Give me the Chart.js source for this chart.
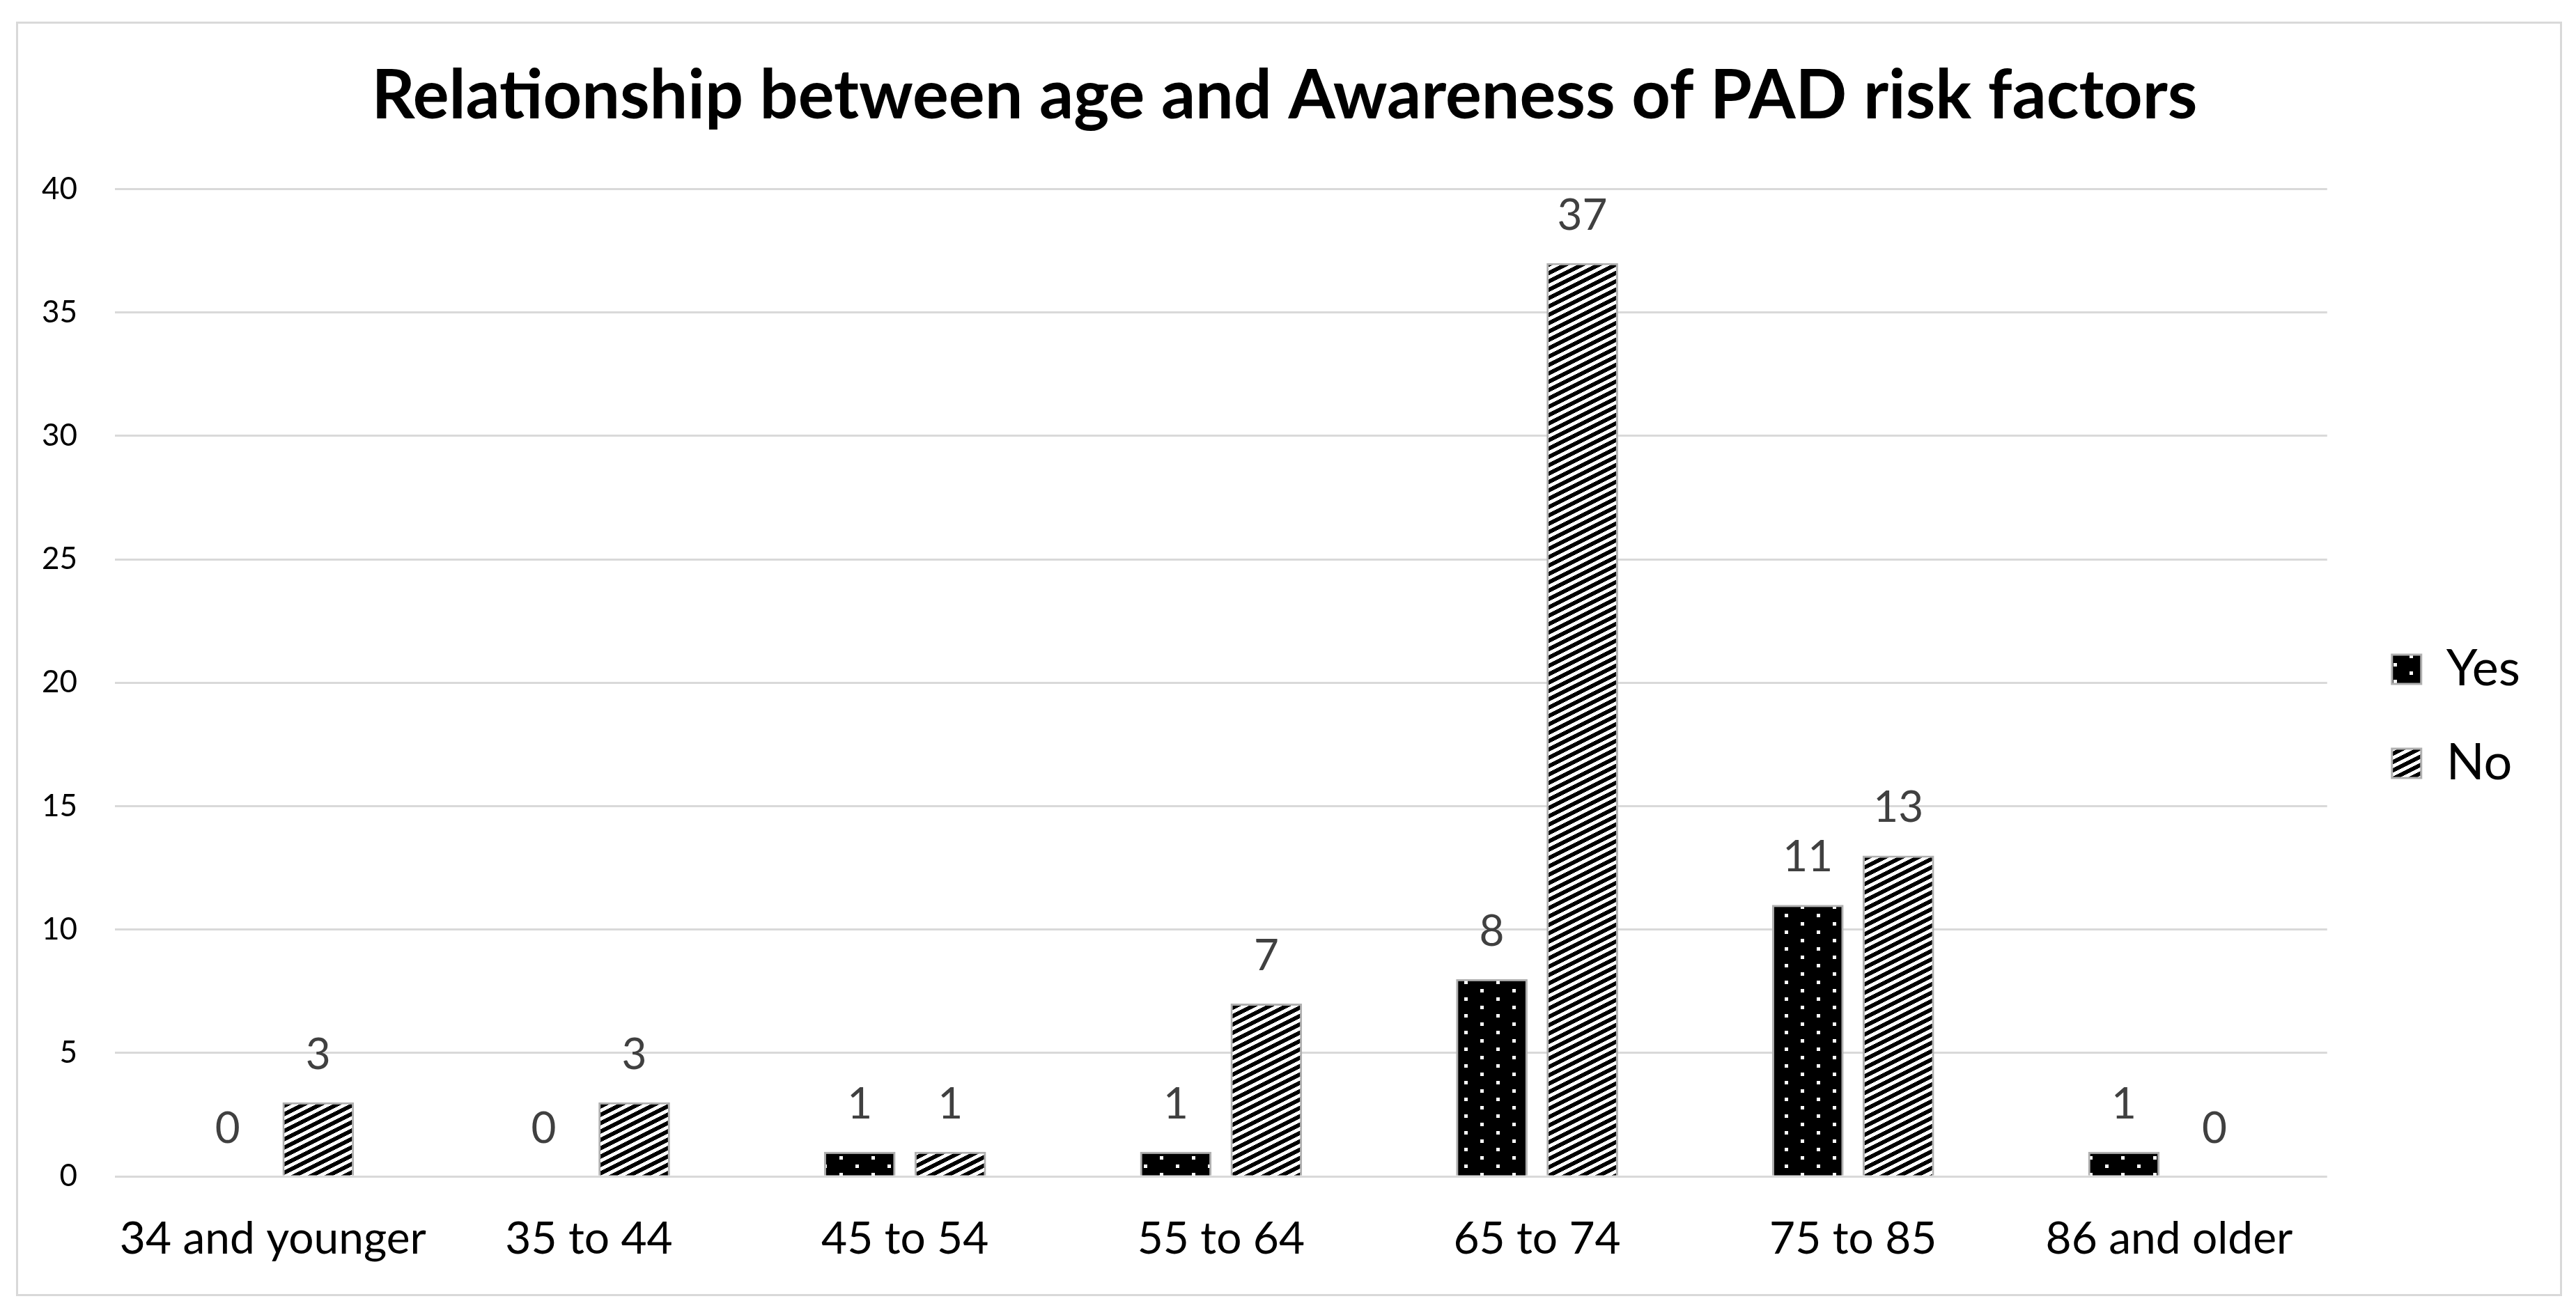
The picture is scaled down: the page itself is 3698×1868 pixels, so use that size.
<!DOCTYPE html>
<html>
<head>
<meta charset="utf-8">
<script src="https://cdn.jsdelivr.net/npm/chart.js@4.4.0/dist/chart.umd.min.js"></script>
<style>
  html, body { margin: 0; padding: 0; background: #fff; }
  #wrap { width: 3698px; height: 1868px; }
</style>
</head>
<body>
<div id="wrap"><canvas id="ageChart" width="3698" height="1868"></canvas></div>
<script>
// Data
const ageGroups = ['34 and younger', '35 to 44', '45 to 54', '55 to 64', '65 to 74', '75 to 85', '86 and older'];
const yesCounts = [0, 0, 1, 1, 8, 11, 1];
const noCounts = [3, 3, 1, 7, 37, 13, 0];
const seriesNames = ['Yes', 'No'];
const yMax = 40;
const yStep = 5;

const FONT = 'Lato, "Open Sans", sans-serif';

// Excel-like fill patterns
function makeDots() {
  const c = document.createElement('canvas');
  c.width = 46; c.height = 24;
  const g = c.getContext('2d');
  g.fillStyle = '#000';
  g.fillRect(0, 0, 46, 24);
  g.fillStyle = '#fff';
  g.fillRect(9, 4, 5, 5);
  g.fillRect(32, 16, 5, 5);
  return g.createPattern(c, 'repeat');
}

function makeStripes() {
  const c = document.createElement('canvas');
  c.width = 24; c.height = 12;
  const g = c.getContext('2d');
  g.fillStyle = '#fff';
  g.fillRect(0, 0, 24, 12);
  g.fillStyle = '#000';
  for (let y = 0; y < 12; y++) {
    const x0 = (24 - 2 * y) % 24;
    g.fillRect(x0, y, 13, 1);
    g.fillRect(x0 - 24, y, 13, 1);
  }
  return g.createPattern(c, 'repeat');
}

// white page + thin grey frame round the chart
const frame = {
  id: 'frame',
  beforeDraw(chart) {
    const ctx = chart.ctx;
    ctx.save();
    ctx.fillStyle = '#fff';
    ctx.fillRect(0, 0, chart.width, chart.height);
    ctx.strokeStyle = '#d9d9d9';
    ctx.lineWidth = 3;
    ctx.strokeRect(24.5, 32.5, 3652, 1827);
    ctx.restore();
  }
};

// value labels above each bar
const valueLabels = {
  id: 'valueLabels',
  afterDatasetsDraw(chart) {
    const ctx = chart.ctx;
    ctx.save();
    ctx.font = '62px ' + FONT;
    ctx.fillStyle = '#404040';
    ctx.textAlign = 'center';
    ctx.textBaseline = 'middle';
    chart.data.datasets.forEach((ds, i) => {
      chart.getDatasetMeta(i).data.forEach((bar, j) => {
        ctx.fillText(String(ds.data[j]), bar.x, bar.y - 68);
      });
    });
    ctx.restore();
  }
};

const ctx = document.getElementById('ageChart').getContext('2d');
new Chart(ctx, {
  type: 'bar',
  data: {
    labels: ageGroups,
    datasets: [
      {
        label: seriesNames[0],
        data: yesCounts,
        backgroundColor: makeDots(),
        borderColor: '#b0b0b0',
        borderWidth: 3,
        categoryPercentage: 0.573,
        barPercentage: 0.79
      },
      {
        label: seriesNames[1],
        data: noCounts,
        backgroundColor: makeStripes(),
        borderColor: '#b0b0b0',
        borderWidth: 3,
        categoryPercentage: 0.573,
        barPercentage: 0.79
      }
    ]
  },
  options: {
    responsive: false,
    devicePixelRatio: 1,
    animation: false,
    layout: {
      padding: { top: 32, left: 60, right: 70, bottom: 6 }
    },
    plugins: {
      title: {
        display: true,
        text: 'Relationship between age and Awareness of PAD risk factors',
        color: '#000',
        font: { family: FONT, size: 97, weight: 'bold' },
        padding: { top: 49, bottom: 74 }
      },
      legend: {
        position: 'right',
        fullSize: false,
        title: { display: true, text: ' ', padding: { top: 21, bottom: 0 }, font: { size: 63 } },
        labels: {
          color: '#000',
          font: { family: FONT, size: 72 },
          boxWidth: 42,
          boxHeight: 42,
          padding: 63
        }
      },
      tooltip: { enabled: false }
    },
    scales: {
      x: {
        grid: { display: false },
        border: { display: false },
        ticks: {
          color: '#000',
          font: { family: FONT, size: 64 },
          padding: 44,
          maxRotation: 0
        }
      },
      y: {
        min: 0,
        max: yMax,
        grid: { color: '#d9d9d9', lineWidth: 3, drawTicks: false },
        border: { display: false },
        ticks: {
          stepSize: yStep,
          color: '#000',
          font: { family: FONT, size: 44 },
          padding: 54
        },
        afterFit(scale) { scale.width = 105; }
      },
      gap: {
        position: 'right',
        grid: { display: false },
        border: { display: false },
        ticks: { display: false },
        afterFit(scale) { scale.width = 30; }
      }
    }
  },
  plugins: [frame, valueLabels]
});
</script>
</body>
</html>
